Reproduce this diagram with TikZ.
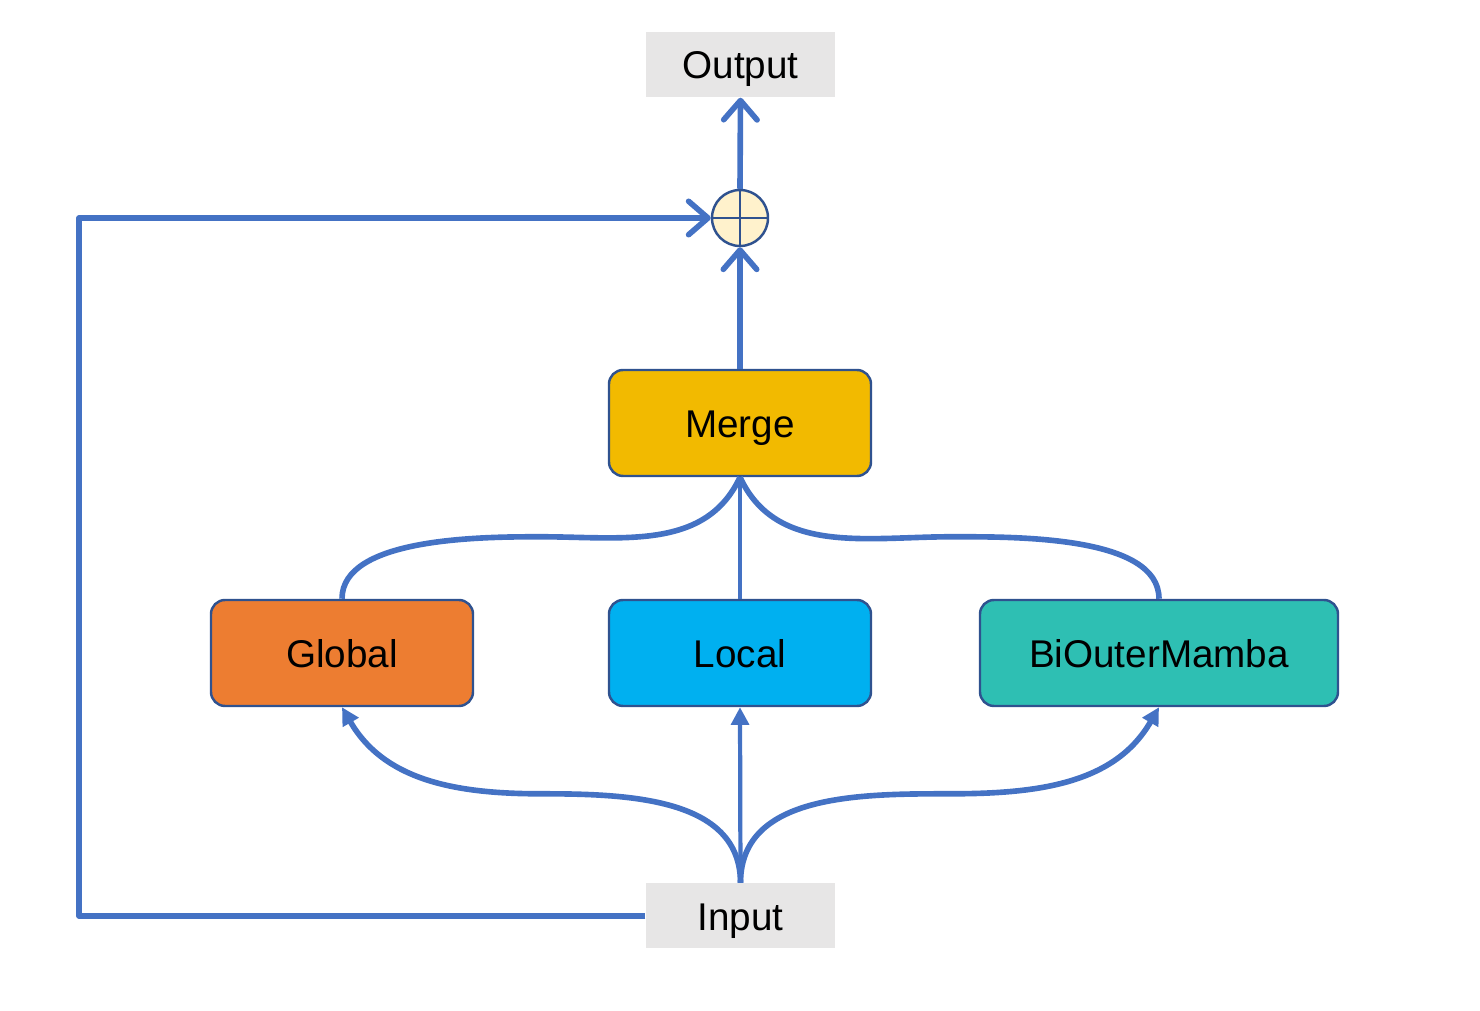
\documentclass[tikz,border=0pt]{standalone}
\usepackage{fontspec}
\setmainfont{Liberation Sans}
\usetikzlibrary{arrows.meta}
\definecolor{lineblue}{HTML}{4472C4}
\definecolor{edgeblue}{HTML}{2F528F}
\definecolor{iogray}{HTML}{E7E6E6}
\definecolor{mergeyellow}{HTML}{F2BA00}
\definecolor{globalorange}{HTML}{ED7D31}
\definecolor{localblue}{HTML}{00B0F0}
\definecolor{mambateal}{HTML}{2EBFB3}
\definecolor{sumfill}{HTML}{FFF2CC}
\tikzset{
  iobox/.style={fill=iogray,minimum width=1.89cm,minimum height=0.65cm,inner sep=0pt,text height=8pt,text depth=0pt,font=\fontsize{11}{13}\selectfont},
  block/.style={draw=edgeblue,line width=0.7pt,rounded corners=4pt,minimum width=2.62cm,minimum height=1.06cm,inner sep=0pt,text height=8pt,text depth=0pt,font=\fontsize{11}{13}\selectfont},
  link/.style={draw=lineblue,line width=1.6pt},
  thinlink/.style={draw=lineblue,line width=1.2pt},
  barb/.style={-{Straight Barb[length=5.5pt,width=9.5pt,round]}},
  tri/.style={-{Triangle[length=5pt,width=5pt]}}
}
\begin{document}
\begin{tikzpicture}
\useasboundingbox (0,0) rectangle (14.8,-10.11);

\node[iobox] (out) at (7.405,-0.645) {Output};
\node[iobox] (in) at (7.405,-9.16) {Input};
\node[circle,draw=edgeblue,line width=0.7pt,fill=sumfill,minimum size=0.56cm,inner sep=0pt] (plus) at (7.4,-2.18) {};
\draw[edgeblue,line width=0.7pt] (plus.north) -- (plus.south) (plus.west) -- (plus.east);

\node[block,fill=mergeyellow] (merge) at (7.4,-4.23) {Merge};
\node[block,fill=globalorange] (glob) at (3.42,-6.53) {Global};
\node[block,fill=localblue] (loc) at (7.4,-6.53) {Local};
\node[block,fill=mambateal,minimum width=3.58cm] (mamba) at (11.59,-6.53) {BiOuterMamba};

\draw[thinlink,tri] (in.north) -- (loc.south);
\draw[link,tri] (in.north) to[out=90,in=0] ++(-2,0.89) to[out=180,in=-60] (glob.south);
\draw[link,tri] (in.north) to[out=90,in=180] ++(2.1,0.89) to[out=0,in=-120] (mamba.south);

\draw[thinlink] (loc.north) -- (merge.south);
\draw[link] (glob.north) to[out=90,in=180,looseness=0.75] ++(1.98,0.62) to[out=0,in=-115] (merge.south);
\draw[link] (mamba.north) to[out=90,in=0,looseness=0.75] ++(-2.07,0.62) to[out=180,in=-65] (merge.south);

\draw[link,barb] (merge.north) -- (plus.south);
\draw[link,barb] (plus.north) -- (out.south);
\draw[link,barb,line join=round] (in.west) -- ++(-5.66,0) |- (plus.west);
\end{tikzpicture}
\end{document}
